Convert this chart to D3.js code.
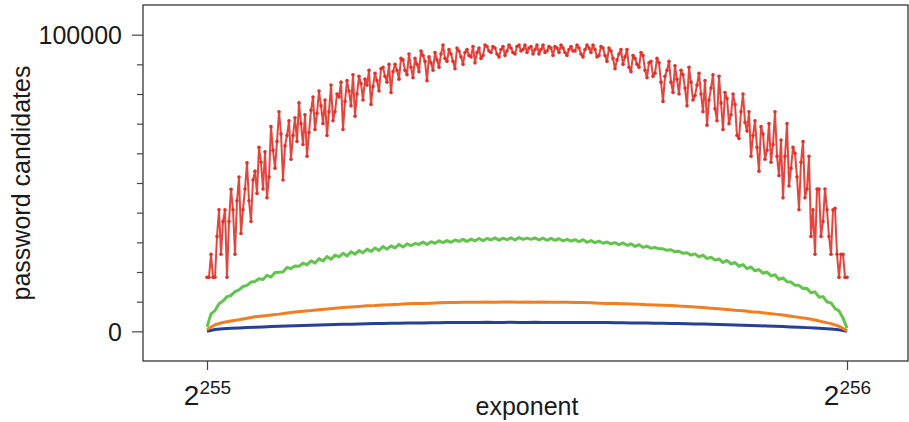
<!DOCTYPE html>
<html>
<head>
<meta charset="utf-8">
<script src="https://cdn.jsdelivr.net/npm/d3@7"></script>
<style>
  body { margin: 0; background: #fff; }
  svg { display: block; }
</style>
</head>
<body>
<svg id="chart" width="909" height="422"></svg>
<script>
// Candidate counts per sample across the exponent range 2^255 .. 2^256
const redValues = [
  18200,18200,26000,18200,18200,32000,41000,26000,37000,41000,
  18200,37000,47900,41000,26000,44000,52000,33000,41000,48000,
  56800,44000,37000,51000,54000,46500,62000,57000,48000,60500,
  45000,52000,69000,61000,55000,64000,74000,66500,51000,62500,
  66000,71000,58000,66000,72000,64000,77000,70000,63000,73000,
  59000,67000,74500,79000,68000,73500,81000,76000,70000,78000,
  66000,74000,83000,71000,74000,80000,79000,84000,68000,77500,
  84500,81000,76000,86500,72500,80000,86000,83500,78000,85000,
  83000,88000,76500,82500,87000,84500,81000,88500,89000,86000,
  84000,90000,80500,87500,90000,88000,85000,92000,91500,88000,
  86500,93500,89000,85500,92000,90000,87500,94500,93000,91000,
  84500,92500,90500,88000,94000,91500,89000,93500,96500,92000,
  91000,95000,93500,91000,88500,95500,94500,92500,90000,94000,
  95000,93000,92500,96000,90500,94000,95500,92000,93000,96500,
  96000,94500,94000,96000,95500,93500,92500,95000,96000,93000,
  94500,96500,95500,94000,93500,96000,96500,94500,95000,96500,
  94000,95500,96000,93500,95000,96500,93500,95000,96500,94000,
  94500,96000,95500,93000,96000,95500,94000,96500,95500,94000,
  93000,95000,96000,94500,94500,96500,95500,93500,92500,95000,
  96500,95500,94000,96500,95000,92500,93000,96000,95500,93000,
  91000,95500,94500,92000,88500,91500,93500,95000,90000,92500,
  95000,89000,87500,93000,92000,90000,89000,94000,93000,88000,
  85500,90500,91000,86000,87000,92000,90500,84000,77500,86000,
  88000,91000,84000,80500,89500,85000,80000,88000,86500,82000,
  76000,89000,84000,78000,79500,83000,87000,80000,74000,84500,
  69500,78000,82000,86500,75000,71000,86000,77000,68000,80500,
  78500,70000,73000,80000,76500,66000,65000,74000,80000,70500,
  67500,74000,59000,66000,71000,62000,54000,69000,66500,58000,
  61000,70000,57000,63000,74000,59000,52500,64500,45000,59000,
  70000,49000,55000,62000,60000,52000,41000,57000,64000,45000,
  48000,59000,32000,41000,26000,48000,48000,32000,37000,48000,
  41000,32000,26000,41000,41500,26000,18200,26000,26000,18200,
  18200
];

const greenValues = [
  1500,5900,7000,9300,10200,11700,12100,13400,14000,15100,
  15500,16600,16800,17700,17500,18900,18300,19800,19900,20000,
  21500,21200,22000,21900,23000,22400,23800,23000,24500,23700,
  25200,24300,25700,25100,26300,25400,26800,26000,27200,26500,
  27700,26900,28100,27300,28600,27700,28800,28100,29300,28400,
  29500,28900,29600,29300,30100,29300,30200,29700,30500,29900,
  30600,30000,30800,30300,31000,30300,31100,30500,31300,30600,
  31300,30800,31500,30700,31400,30900,31500,30800,31600,31000,
  31400,31000,31500,30800,31400,30700,31300,30700,31200,30500,
  31000,30400,30900,30200,30900,30000,30600,29900,30400,29700,
  30100,29500,29900,29200,29800,29000,29500,28600,29200,28300,
  28700,28000,28300,27800,27800,27300,27500,26800,27000,26300,
  26500,25700,26100,25100,25700,24500,25000,24000,24400,23200,
  23900,22700,23200,21900,22500,21100,21700,20400,20800,19600,
  20000,18700,19100,17500,18000,16700,16600,15500,15500,14400,
  14400,13000,13300,11500,11700,9900,9600,7700,6900,4500,
  1000
];

const orangeValues = [
  600,2200,3000,3500,3900,4400,4900,5200,5500,5800,
  6200,6500,6800,7000,7300,7500,7800,8000,8200,8400,
  8600,8700,8900,9000,9100,9300,9400,9400,9500,9600,
  9700,9700,9800,9800,9800,9900,9800,9900,9900,9800,
  9900,9800,9900,9800,9800,9800,9700,9700,9600,9500,
  9400,9400,9300,9200,9100,9000,8900,8800,8700,8500,
  8400,8200,8000,7800,7600,7400,7100,6900,6600,6400,
  6100,5800,5500,5100,4700,4300,3800,3200,2600,1700,
  200
];

const blueValues = [
  0,600,850,1000,1150,1300,1400,1500,1600,1700,
  1800,1900,2000,2050,2150,2200,2300,2350,2400,2500,
  2550,2600,2650,2700,2750,2800,2800,2850,2900,2900,
  2950,2950,3000,3000,3000,3050,3000,3000,3050,3000,
  3000,3050,3000,3000,3000,3000,2950,3000,2950,2950,
  2950,2900,2900,2850,2800,2800,2750,2700,2650,2600,
  2550,2500,2450,2400,2300,2250,2150,2050,2000,1900,
  1800,1700,1600,1500,1400,1250,1100,950,750,500,
  0
];

const yMajorTicks = [0, 100000];
const yMinorTicks = [10000, 20000, 30000, 40000, 50000, 60000, 70000, 80000, 90000];
const xTickValues = [0, 1];
const xTickBase = "2";
const xTickExponents = ["255", "256"];
const xAxisLabel = "exponent";
const yAxisLabel = "password candidates";

const FONT = "'Liberation Sans', Arial, sans-serif";
const svg = d3.select("#chart");

const frame = { left: 143, right: 908, top: 5, bottom: 361 };

// 0 and 1 mark the two ends of the exponent interval
const x = d3.scaleLinear().domain([0, 1]).range([207, 847]);
const y = d3.scaleLinear().domain([-10000, 110000]).range([frame.bottom, frame.top]);

function seriesLine(values) {
  const n = values.length;
  return d3.line()
    .x((d, i) => x(i / (n - 1)))
    .y(d => y(d));
}

const layer = svg.append("g");

const series = [
  { values: blueValues,   color: "#26409a", width: 3 },
  { values: orangeValues, color: "#f47d20", width: 3 },
  { values: greenValues,  color: "#62c44c", width: 3 }
];

series.forEach(s => {
  layer.append("path")
    .datum(s.values)
    .attr("fill", "none")
    .attr("stroke", s.color)
    .attr("stroke-width", s.width)
    .attr("stroke-linejoin", "round")
    .attr("d", seriesLine(s.values));
});

// red series: line with small dot markers
const redColor = "#e0322a";
layer.append("path")
  .datum(redValues)
  .attr("fill", "none")
  .attr("stroke", redColor)
  .attr("stroke-opacity", 0.9)
  .attr("stroke-width", 2)
  .attr("stroke-linejoin", "round")
  .attr("d", seriesLine(redValues));

layer.selectAll("circle.red")
  .data(redValues)
  .enter().append("circle")
  .attr("class", "red")
  .attr("cx", (d, i) => x(i / (redValues.length - 1)))
  .attr("cy", d => y(d))
  .attr("r", 1.8)
  .attr("fill", redColor);

// frame
svg.append("rect")
  .attr("x", frame.left)
  .attr("y", frame.top)
  .attr("width", frame.right - frame.left)
  .attr("height", frame.bottom - frame.top)
  .attr("fill", "none")
  .attr("stroke", "#262626")
  .attr("stroke-width", 1.2);

// y axis: major ticks with labels, minor ticks without
const yMajor = svg.append("g")
  .attr("transform", `translate(${frame.left},0)`)
  .call(d3.axisLeft(y).tickValues(yMajorTicks).tickSize(11).tickPadding(10).tickFormat(d3.format("d")));
const yMinor = svg.append("g")
  .attr("transform", `translate(${frame.left},0)`)
  .call(d3.axisLeft(y).tickValues(yMinorTicks).tickSize(6).tickFormat(""));

[yMajor, yMinor].forEach(g => {
  g.select(".domain").remove();
  g.selectAll(".tick line").attr("stroke", "#444").attr("stroke-width", 1.2);
});
yMajor.selectAll(".tick text")
  .attr("font-family", FONT)
  .attr("font-size", 25)
  .attr("fill", "#1a1a1a")
  .attr("dy", "0.36em");

// x axis: powers of two at both ends
const xAxis = svg.append("g")
  .attr("transform", `translate(0,${frame.bottom})`)
  .call(d3.axisBottom(x).tickValues(xTickValues).tickSize(9).tickFormat(""));
xAxis.select(".domain").remove();
xAxis.selectAll(".tick line").attr("stroke", "#444").attr("stroke-width", 1.2);
xAxis.selectAll(".tick text").remove();
xAxis.selectAll(".tick").each(function (d, i) {
  const t = d3.select(this).append("text")
    .attr("y", 44)
    .attr("text-anchor", "middle")
    .attr("font-family", FONT)
    .attr("fill", "#1a1a1a");
  t.append("tspan").attr("font-size", 28).text(xTickBase);
  t.append("tspan").attr("font-size", 19).attr("dy", -11).text(xTickExponents[i]);
});

// axis titles
svg.append("text")
  .attr("x", x(0.5))
  .attr("y", 415)
  .attr("text-anchor", "middle")
  .attr("font-family", FONT)
  .attr("font-size", 25)
  .attr("fill", "#1a1a1a")
  .text(xAxisLabel);

svg.append("text")
  .attr("transform", `translate(30,${(frame.top + frame.bottom) / 2}) rotate(-90)`)
  .attr("text-anchor", "middle")
  .attr("font-family", FONT)
  .attr("font-size", 25)
  .attr("fill", "#1a1a1a")
  .text(yAxisLabel);
</script>
</body>
</html>
